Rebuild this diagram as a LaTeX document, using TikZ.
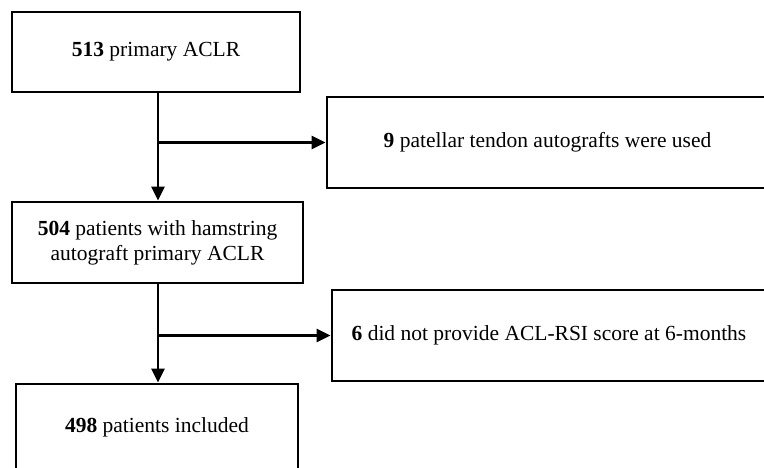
\documentclass[tikz,border=0pt]{standalone}
\usepackage{fontspec}
\setmainfont{Liberation Serif}
\usetikzlibrary{arrows.meta}
\tikzset{
  box/.style={draw=black, line width=2.8pt, fill=white, inner sep=0pt, align=center,
    font=\fontsize{21.5}{25}\selectfont},
  flow/.style={line width=2.8pt, -{Triangle[length=14pt,width=13pt]}}
}
\begin{document}
\begin{tikzpicture}[x=1pt,y=-1pt]
\useasboundingbox (0,0) rectangle (764,468);
\clip (0,0) rectangle (764,468);
\node[box, minimum width=288pt, minimum height=80pt] (b1) at (156,52) {\textbf{513} primary ACLR};
\node[box, minimum width=441pt, minimum height=91pt] (b2) at (547.5,142.5) {\textbf{9} patellar tendon autografts were used};
\node[box, minimum width=291pt, minimum height=81pt] (b3) at (157.5,242.5) {\textbf{504} patients with hamstring\\autograft primary ACLR};
\node[box, minimum width=434pt, minimum height=91pt] (b4) at (549,335.5) {\textbf{6} did not provide ACL-RSI score at 6-months};
\node[box, minimum width=282pt, minimum height=86pt] (b5) at (157,427) {\textbf{498} patients included};
\draw[flow] (b1.south -| 158,0) -- (b3.north -| 158,0);
\draw[flow] (158,0 |- b2.west) -- (b2.west);
\draw[flow] (b3.south -| 158,0) -- (b5.north -| 158,0);
\draw[flow] (158,0 |- b4.west) -- (b4.west);
\end{tikzpicture}
\end{document}
